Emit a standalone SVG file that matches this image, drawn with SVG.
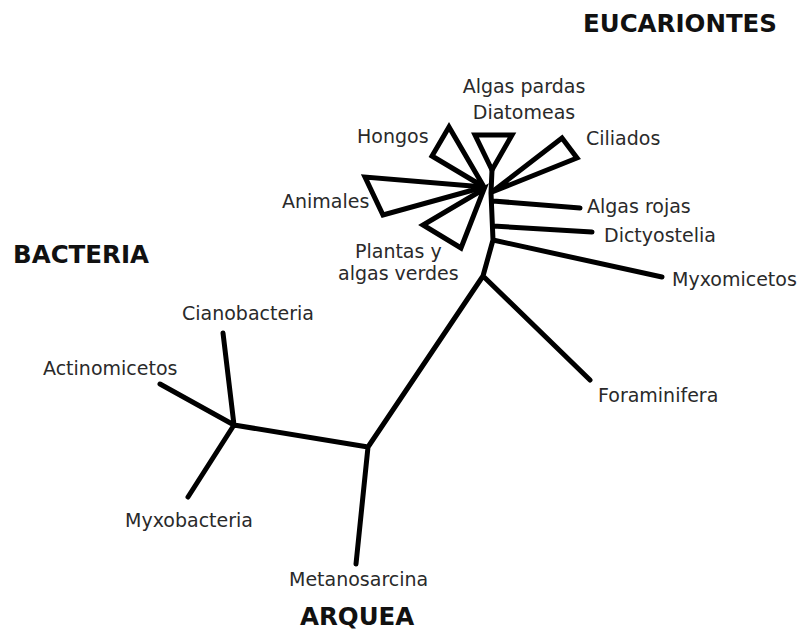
<svg xmlns="http://www.w3.org/2000/svg" width="798" height="630" viewBox="0 0 798 630">
<style>
.br{fill:none;stroke:#000;stroke-width:5;stroke-linecap:round;stroke-linejoin:round}
.tri{fill:#fff;stroke:#000;stroke-width:5;stroke-linejoin:miter}
.lb{font-family:"DejaVu Sans",sans-serif;font-size:19px;fill:#2a2a2a}
.hd{font-family:"DejaVu Sans",sans-serif;font-weight:bold;font-size:24.5px;fill:#111}
</style>
<rect width="798" height="630" fill="#fff"/>
<g id="connectors">
<path class="br" d="M234,425 L223,333 M234,425 L160,384 M234,425 L188,497 M234,425 L368,447 L356,564 M368,447 L483,276 L590,380 M483,276 L493,240 L491,193 L492,170 M493,240 L662,277 M493,226 L592,232 M493,201 L580,208"/>
</g>
<g id="hongos"><polygon class="tri" points="484,187 449,127 432,156"/><text class="lb" x="357" y="143">Hongos</text></g>
<g id="animales"><polygon class="tri" points="484,187 365,177 383,215"/><text class="lb" x="282" y="208">Animales</text></g>
<g id="plantas"><polygon class="tri" points="484,189 423,225 461,248"/><text class="lb" x="355" y="258">Plantas y</text><text class="lb" x="338" y="280">algas verdes</text></g>
<g id="diatomeas"><polygon class="tri" points="492,170 475,135 512,135"/><text class="lb" x="524" y="93" text-anchor="middle">Algas pardas</text><text class="lb" x="524" y="119" text-anchor="middle">Diatomeas</text></g>
<g id="ciliados"><polygon class="tri" points="492,192 562,138 577,158"/><text class="lb" x="586" y="145">Ciliados</text></g>
<g id="algas-rojas"><text class="lb" x="587" y="213">Algas rojas</text></g>
<g id="dictyostelia"><text class="lb" x="604" y="242">Dictyostelia</text></g>
<g id="myxomicetos"><text class="lb" x="672" y="286">Myxomicetos</text></g>
<g id="foraminifera"><text class="lb" x="598" y="402">Foraminifera</text></g>
<g id="cianobacteria"><text class="lb" x="182" y="320">Cianobacteria</text></g>
<g id="actinomicetos"><text class="lb" x="43" y="375">Actinomicetos</text></g>
<g id="myxobacteria"><text class="lb" x="125" y="527">Myxobacteria</text></g>
<g id="metanosarcina"><text class="lb" x="289" y="586">Metanosarcina</text></g>
<g id="eucariontes"><text class="hd" x="583" y="32">EUCARIONTES</text></g>
<g id="bacteria"><text class="hd" x="13" y="263">BACTERIA</text></g>
<g id="arquea"><text class="hd" x="300" y="625">ARQUEA</text></g>
</svg>
